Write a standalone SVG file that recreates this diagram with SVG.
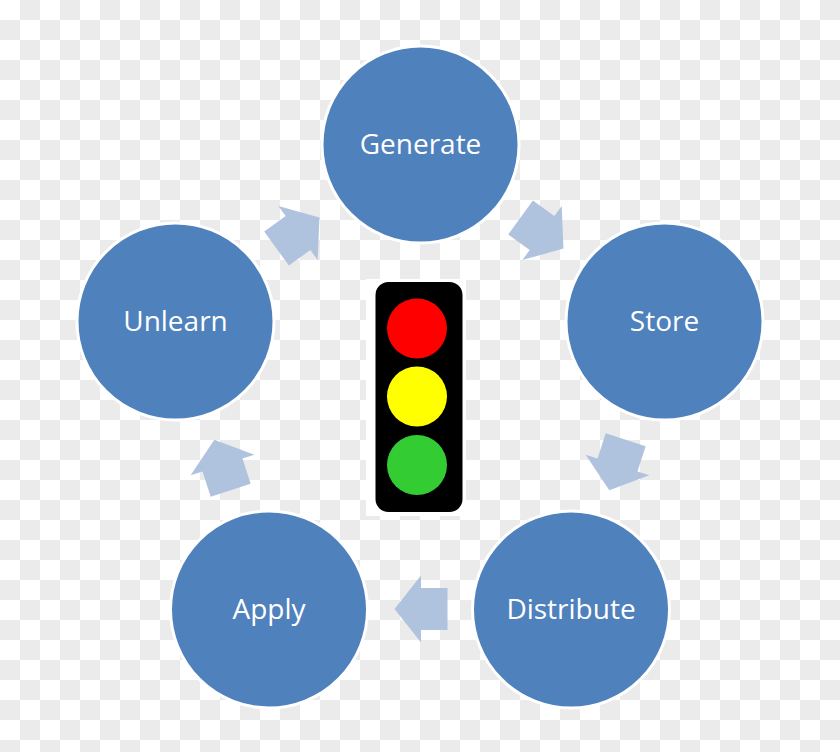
<svg xmlns="http://www.w3.org/2000/svg" width="840" height="752" viewBox="0 0 840 752">
  <defs>
    <pattern id="checker" x="0" y="0" width="40" height="40" patternUnits="userSpaceOnUse">
      <rect x="0" y="0" width="40" height="40" fill="#ffffff"/>
      <rect x="20" y="0" width="20" height="20" fill="#ebebeb"/>
      <rect x="0" y="20" width="20" height="20" fill="#ebebeb"/>
    </pattern>
    <polygon id="arrow" points="-26.5,-21 0,-21 0,-33.5 26.5,0 0,33.5 0,21 -26.5,21"/>
  </defs>
  <style>
    .node circle { fill: #4f81bd; stroke: #ffffff; stroke-width: 3; }
    .node text { fill: #ffffff; font-family: "Open Sans", "Noto Sans", "Liberation Sans", sans-serif; font-size: 28px; text-anchor: middle; }
    .conn use { fill: #b0c3de; }
  </style>
  <rect x="0" y="0" width="840" height="752" fill="url(#checker)"/>

  <g id="connectors" class="conn">
    <use href="#arrow" transform="translate(542,233) rotate(36)"/>
    <use href="#arrow" transform="translate(617.5,465) rotate(108)"/>
    <use href="#arrow" transform="translate(421,609) rotate(180)"/>
    <use href="#arrow" transform="translate(222.5,465) rotate(252)"/>
    <use href="#arrow" transform="translate(298,233) rotate(324)"/>
  </g>

  <g id="generate" class="node">
    <circle cx="420.5" cy="144.5" r="98.5"/>
    <text x="420.5" y="154">Generate</text>
  </g>
  <g id="store" class="node">
    <circle cx="664.5" cy="321.5" r="98.5"/>
    <text x="664.5" y="331">Store</text>
  </g>
  <g id="distribute" class="node">
    <circle cx="571" cy="609.5" r="98.5"/>
    <text x="571" y="619">Distribute</text>
  </g>
  <g id="apply" class="node">
    <circle cx="269" cy="609.5" r="98.5"/>
    <text x="269" y="619">Apply</text>
  </g>
  <g id="unlearn" class="node">
    <circle cx="175.5" cy="321.5" r="98.5"/>
    <text x="175.5" y="331">Unlearn</text>
  </g>

  <g id="traffic-light">
    <rect x="366" y="279" width="100" height="237" fill="#ffffff"/>
    <rect x="375.5" y="282" width="87" height="230" rx="13" ry="13" fill="#000000"/>
    <circle cx="417" cy="328.5" r="30" fill="#ff0000"/>
    <circle cx="417" cy="396.5" r="30" fill="#ffff00"/>
    <circle cx="417" cy="465" r="30" fill="#33cc33"/>
  </g>
</svg>
